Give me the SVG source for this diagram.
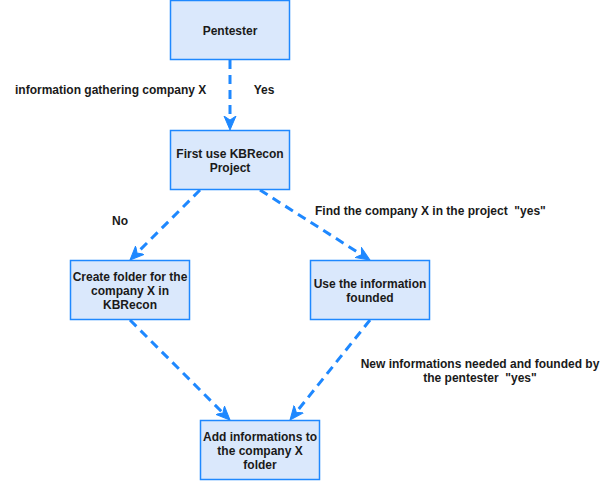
<svg xmlns="http://www.w3.org/2000/svg" width="611" height="481" viewBox="0 0 611 481">
<style>
.node rect{fill:#dae8fc;stroke:#1e88ff;stroke-width:1.5}
text{font-family:"Liberation Sans",Arial,sans-serif;font-size:12px;font-weight:bold;fill:#1a1a1a;white-space:pre}
.c{text-anchor:middle}
.edge{fill:none;stroke:#1e88ff;stroke-width:3;stroke-dasharray:9 6;marker-end:url(#arr)}
</style>
<defs>
<marker id="arr" markerUnits="userSpaceOnUse" viewBox="0 -7 15 14" refX="10" refY="0" markerWidth="15" markerHeight="14" orient="auto">
<path d="M0,-6 L14,0 L0,6 L4,0 z" fill="#1e88ff" stroke="#1e88ff" stroke-width="1"/>
</marker>
</defs>
<rect width="611" height="481" fill="#ffffff"/>
<g id="connectors">
<path class="edge" d="M230,60 L230,126"/>
<path class="edge" d="M200,190 L132.8,257.2"/>
<path class="edge" d="M260,190 L366.6,257.9"/>
<path class="edge" d="M130,320 L227.2,417.2"/>
<path class="edge" d="M370,320 L292.5,416.9"/>
</g>
<g id="edge-labels">
<text x="15" y="94">information gathering company X</text>
<text x="264" y="94" class="c">Yes</text>
<text x="120" y="225" class="c">No</text>
<text x="315" y="215" xml:space="preserve">Find the company X in the project  "yes"</text>
<text x="480" y="368" class="c">New informations needed and founded by</text>
<text x="480" y="382" class="c" xml:space="preserve">the pentester  "yes"</text>
</g>
<g id="pentester" class="node">
<rect x="170.5" y="0.5" width="119" height="59"/>
<text x="230" y="35" class="c">Pentester</text>
</g>
<g id="first-use" class="node">
<rect x="170.5" y="130.5" width="119" height="59"/>
<text x="230" y="158" class="c">First use KBRecon</text>
<text x="230" y="172" class="c">Project</text>
</g>
<g id="create-folder" class="node">
<rect x="70.5" y="260.5" width="119" height="59"/>
<text x="130" y="281" class="c">Create folder for the</text>
<text x="130" y="295" class="c">company X in</text>
<text x="130" y="309" class="c">KBRecon</text>
</g>
<g id="use-info" class="node">
<rect x="310.5" y="260.5" width="119" height="59"/>
<text x="370" y="288" class="c">Use the information</text>
<text x="370" y="302" class="c">founded</text>
</g>
<g id="add-info" class="node">
<rect x="200.5" y="420.5" width="119" height="59"/>
<text x="260" y="441" class="c">Add informations to</text>
<text x="260" y="455" class="c">the company X</text>
<text x="260" y="469" class="c">folder</text>
</g>
</svg>
